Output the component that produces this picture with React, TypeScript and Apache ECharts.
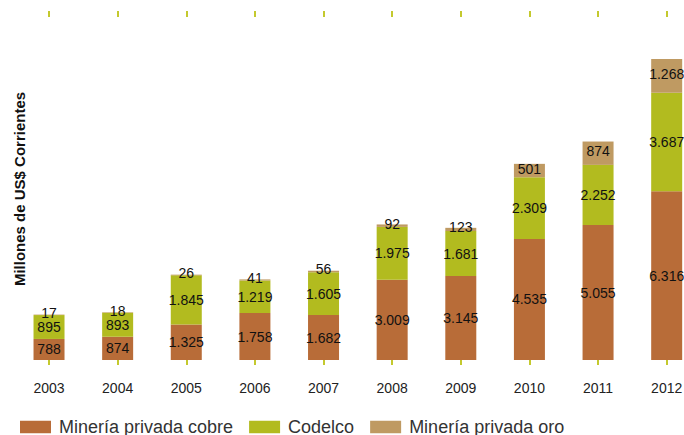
import React, { useEffect, useRef } from "react";
import * as echarts from "echarts";

const years = ["2003", "2004", "2005", "2006", "2007", "2008", "2009", "2010", "2011", "2012"];
const privadaCobre = [788, 874, 1325, 1758, 1682, 3009, 3145, 4535, 5055, 6316];
const codelco = [895, 893, 1845, 1219, 1605, 1975, 1681, 2309, 2252, 3687];
const privadaOro = [17, 18, 26, 41, 56, 92, 123, 501, 874, 1268];

const seriesNames = ["Minería privada cobre", "Codelco", "Minería privada oro"];
const colors = ["#b86c38", "#b2bb1f", "#bf9a62"];
const yTitle = "Millones de US$ Corrientes";

const fmt = (v: number) => String(v).replace(/\B(?=(\d{3})+(?!\d))/g, ".");

export default function App() {
  const ref = useRef<HTMLDivElement>(null);
  useEffect(() => {
    if (!ref.current) return;
    const chart = echarts.init(ref.current, null, { renderer: "svg" });
    const font = "'Liberation Sans', Arial, Helvetica, sans-serif";
    const label = (offsetY: number) => ({
      show: true,
      position: "inside" as const,
      offset: [0, offsetY],
      color: "#111",
      fontSize: 14,
      fontFamily: font,
      formatter: (p: any) => fmt(p.value),
    });
    const datas = [privadaCobre, codelco, privadaOro];
    chart.setOption({
      animation: false,
      textStyle: { fontFamily: font },
      grid: { left: 14.7, right: 0, top: 17, bottom: 75, containLabel: false },
      legend: {
        left: 20,
        top: 418,
        padding: 0,
        itemWidth: 31,
        itemHeight: 12.5,
        itemGap: 16,
        icon: "rect",
        textStyle: { fontSize: 18, color: "#333", fontFamily: font, padding: [0, 0, 0, 3] },
        data: seriesNames,
      },
      xAxis: [
        {
          type: "category",
          data: years,
          position: "bottom",
          offset: 9,
          axisLine: { show: false },
          axisTick: { show: true, length: 5, alignWithLabel: true, lineStyle: { color: "#c4c92e", width: 2 } },
          axisLabel: { color: "#222", fontSize: 14, margin: 12, fontFamily: font },
        },
        {
          type: "category",
          data: years,
          position: "top",
          axisLine: { show: false },
          axisTick: { show: true, length: 6, alignWithLabel: true, lineStyle: { color: "#c4c92e", width: 2 } },
          axisLabel: { show: false },
        },
      ],
      yAxis: {
        type: "value",
        min: 0,
        max: 12844,
        show: false,
        splitLine: { show: false },
      },
      graphic: [
        {
          type: "text",
          x: 19,
          y: 189,
          rotation: Math.PI / 2,
          style: {
            text: yTitle,
            fill: "#111",
            font: `bold 15px ${font}`,
            textAlign: "center",
            textVerticalAlign: "middle",
          },
        },
      ],
      series: seriesNames.map((name, i) => ({
        name,
        type: "bar",
        stack: "total",
        xAxisIndex: 0,
        barWidth: 31,
        itemStyle: { color: colors[i] },
        label: label(i === 2 ? -2 : 0),
        data: datas[i],
      })),
    });
    return () => chart.dispose();
  }, []);
  return (
    <div style={{ position: "absolute", left: 0, top: 0, width: 684, height: 435, overflow: "hidden" }}>
      <div ref={ref} style={{ width: 701, height: 435 }} />
    </div>
  );
}
